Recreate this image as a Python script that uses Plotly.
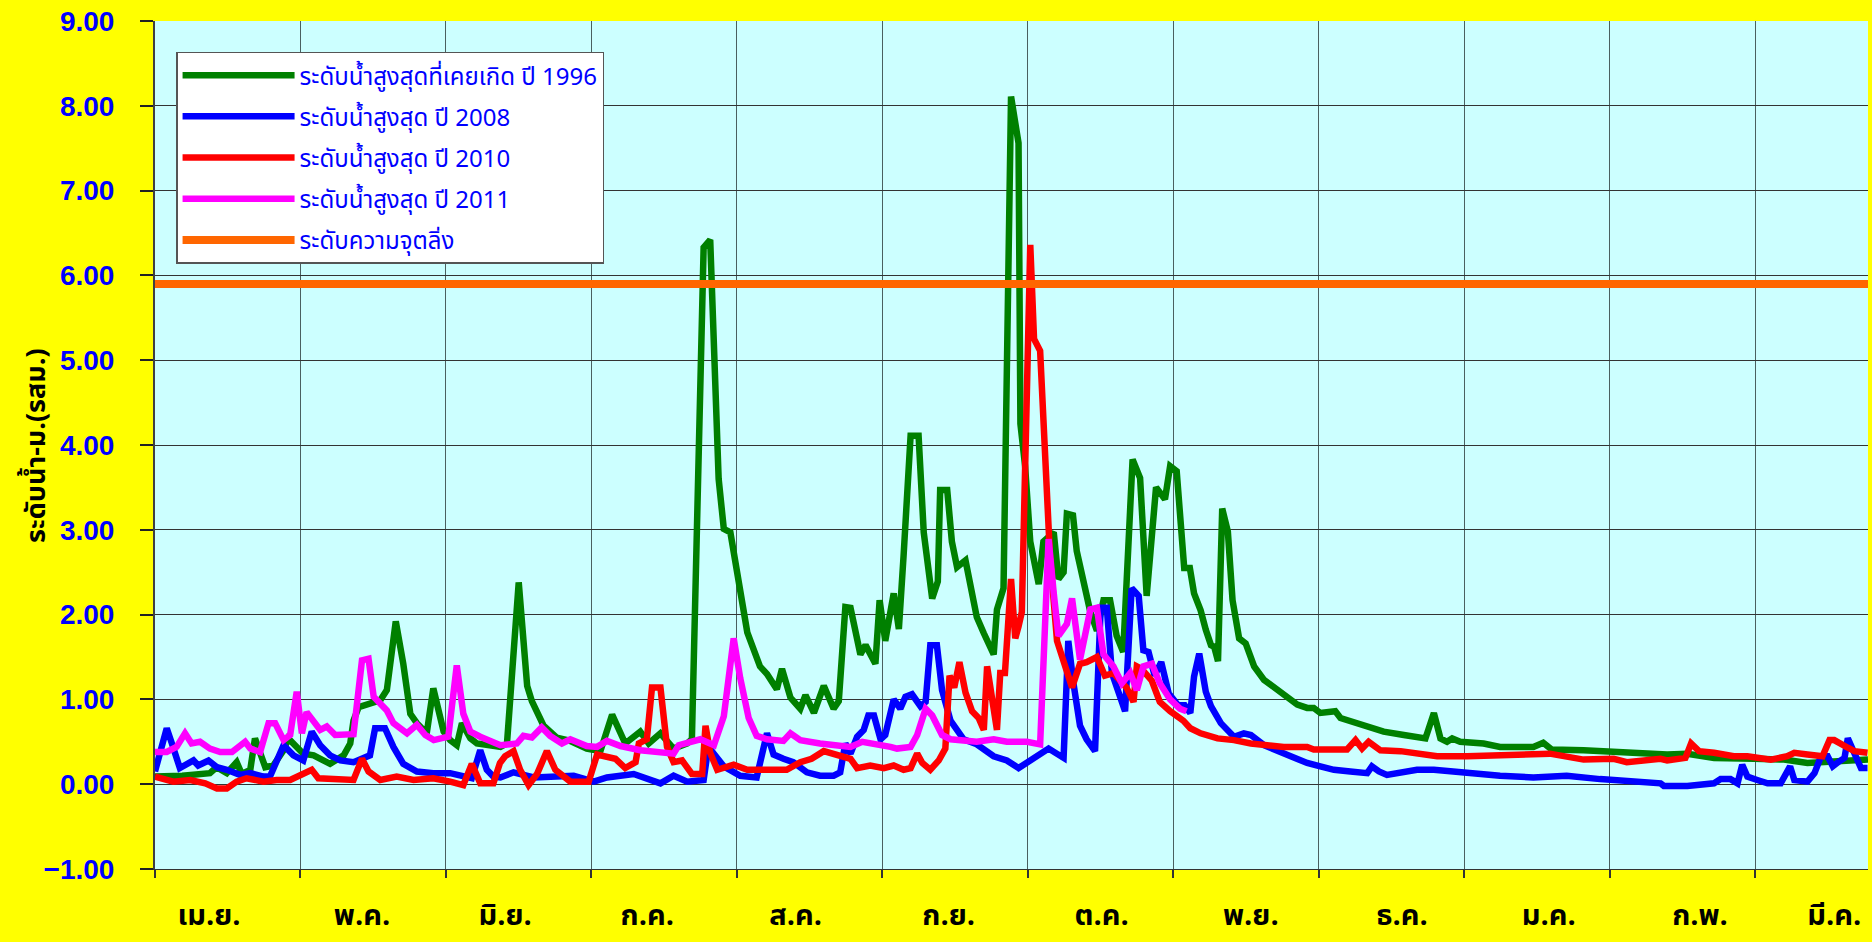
import plotly.graph_objects as go

# ---------------- data (day index from 1 April, value in m) ----------------
n_days = 366
threshold_level = 5.9

green_days = [0, 5.8, 11.7, 13.1, 15.3, 17.4, 18.5, 20.3, 21.3, 23.5, 25.2, 27.4, 28.4, 30.2, 31.6, 33.8, 36.0, 37.3,
              40.2, 41.6, 42.3, 43.4, 48.0, 49.4, 51.3, 52.9, 54.4, 55.8, 57.9, 59.3, 61.5, 62.9, 64.3, 65.4, 67.2,
              68.6, 73.6, 75.0, 77.5, 79.3, 80.3, 82.8, 85.6, 88.5, 92.0, 94.9, 97.4, 100.2, 103.4, 105.2, 107.7,
              110.5, 113.4, 114.4, 116.9, 118.3, 120.1, 121.2, 122.6, 124.0, 126.2, 128.9, 130.4, 132.5, 133.6,
              135.4, 137.5, 138.6, 140.4, 142.5, 144.6, 145.7, 147.1, 148.2, 150.3, 151.4, 153.5, 154.4, 155.6,
              157.4, 158.5, 159.5, 161.0, 162.7, 163.8, 165.6, 166.8, 167.3, 168.8, 169.8, 170.9, 172.7, 175.1,
              176.6, 178.7, 179.4, 180.8, 182.4, 184.0, 184.4, 185.4, 186.5, 188.3, 189.3, 191.5, 192.5, 193.6,
              194.3, 195.6, 196.4, 197.8, 199.3, 200.7, 202.1, 203.5, 204.9, 206.3, 208.3, 209.9, 211.3, 213.3,
              215.2, 216.3, 217.7, 219.3, 220.5, 221.4, 222.8, 223.9, 225.0, 225.7, 226.5, 227.4, 228.6, 229.6,
              231.0, 232.4, 234.2, 236.3, 239.1, 241.3, 243.4, 245.5, 246.9, 248.3, 251.5, 252.6, 257.6, 261.8,
              266.1, 270.7, 272.5, 273.9, 275.3, 276.4, 278.1, 283.1, 286.6, 293.7, 295.8, 297.6, 304.4, 315.1,
              322.2, 326.5, 332.2, 340.7, 347.1, 352.1, 357.8, 365.0]
green_vals = [0.09, 0.10, 0.13, 0.20, 0.13, 0.26, 0.12, 0.17, 0.54, 0.20, 0.22, 0.40, 0.54, 0.44, 0.36, 0.34, 0.28, 0.24,
              0.34, 0.48, 0.75, 0.91, 0.99, 1.11, 1.92, 1.42, 0.83, 0.72, 0.60, 1.13, 0.62, 0.52, 0.46, 0.72, 0.54,
              0.48, 0.44, 0.48, 2.38, 1.16, 0.98, 0.69, 0.55, 0.51, 0.42, 0.39, 0.82, 0.48, 0.62, 0.48, 0.60,
              0.42, 0.48, 0.53, 6.33, 6.42, 3.60, 3.01, 2.97, 2.47, 1.79, 1.39, 1.30, 1.12, 1.36,
              1.02, 0.89, 1.05, 0.84, 1.16, 0.89, 0.98, 2.09, 2.08, 1.53, 1.64, 1.42, 2.17, 1.69,
              2.25, 1.83, 2.69, 4.11, 4.11, 2.97, 2.19, 2.39, 3.47, 3.47, 2.86, 2.56, 2.64, 1.97,
              1.78, 1.53, 2.06, 2.31, 8.11, 7.56, 4.25, 3.75, 2.86, 2.36, 2.86, 2.97, 2.42, 2.50,
              3.19, 3.17, 2.75, 2.42, 2.03, 1.81, 2.17, 2.17, 1.75, 1.56, 3.83, 3.61, 2.22, 3.50,
              3.36, 3.75, 3.69, 2.55, 2.55, 2.25, 2.05, 1.82, 1.64, 1.62, 1.45, 3.25, 2.98, 2.17,
              1.72, 1.66, 1.39, 1.23, 1.11, 1.03, 0.94, 0.90, 0.90, 0.84, 0.86, 0.78, 0.70, 0.62,
              0.58, 0.54, 0.84, 0.54, 0.50, 0.54, 0.50, 0.48, 0.44, 0.44, 0.49, 0.41, 0.40, 0.37,
              0.35, 0.36, 0.31, 0.30, 0.29, 0.25, 0.27, 0.29]

blue_days = [0, 2.5, 3.6, 5.3, 8.2, 9.2, 11.4, 13.2, 15.3, 18.1, 20.3, 23.1, 24.5, 27.4, 29.5, 31.6, 33.4, 35.2, 37.3,
             39.5, 42.3, 45.8, 46.9, 49.0, 50.8, 52.9, 55.8, 59.3, 62.9, 66.1, 67.5, 69.3, 70.7, 72.1, 73.6, 76.4,
             80.7, 89.2, 93.5, 96.3, 102.0, 107.7, 110.5, 113.4, 116.9, 117.9, 121.2, 124.7, 128.2, 130.4, 131.8,
             133.9, 136.0, 138.9, 141.7, 144.6, 146.0, 147.1, 148.2, 149.6, 151.0, 152.0, 153.2, 154.6, 155.6,
             157.4, 158.8, 159.9, 161.3, 163.1, 164.2, 165.2, 166.6, 167.7, 169.5, 172.3, 175.1, 178.7, 181.5,
             184.0, 185.8, 187.2, 188.6, 190.4, 193.6, 194.6, 195.7, 197.1, 198.5, 200.3, 201.5, 202.8, 203.9,
             205.6, 206.7, 208.1, 209.6, 210.6, 211.7, 213.0, 214.4, 216.0, 218.0, 219.4, 220.6, 221.4, 222.5,
             223.9, 225.0, 227.1, 229.9, 232.0, 233.5, 236.3, 239.1, 242.0, 245.5, 248.3, 251.2, 254.7, 258.3,
             259.3, 260.8, 262.5, 266.1, 268.9, 272.5, 276.0, 279.6, 283.1, 286.6, 293.7, 300.8, 307.9, 315.1,
             320.8, 321.5, 326.5, 332.2, 333.6, 335.7, 337.2, 338.2, 339.3, 341.4, 343.6, 346.4, 348.4, 349.3,
             352.1, 353.6, 355.0, 356.4, 357.5, 358.9, 360.0, 360.7, 362.1, 363.5, 364.9]
blue_vals = [0.15, 0.66, 0.48, 0.19, 0.28, 0.22, 0.28, 0.20, 0.17, 0.11, 0.13, 0.09, 0.09, 0.46, 0.34, 0.28, 0.62, 0.46, 0.34,
             0.28, 0.26, 0.34, 0.66, 0.66, 0.44, 0.24, 0.15, 0.13, 0.13, 0.09, 0.07, 0.40, 0.17, 0.09, 0.08, 0.14,
             0.08, 0.10, 0.03, 0.08, 0.12, 0.01, 0.10, 0.03, 0.05, 0.44, 0.21, 0.10, 0.08, 0.60, 0.35,
             0.30, 0.26, 0.14, 0.10, 0.10, 0.14, 0.48, 0.36, 0.56, 0.64, 0.81, 0.81, 0.53, 0.58,
             1.00, 0.89, 1.03, 1.06, 0.92, 0.97, 1.64, 1.64, 1.11, 0.75, 0.53, 0.47, 0.33, 0.28,
             0.19, 0.25, 0.31, 0.36, 0.42, 0.31, 1.69, 1.19, 0.69, 0.53, 0.39, 2.08, 2.08, 1.31,
             1.03, 0.86, 2.31, 2.22, 1.58, 1.56, 1.28, 1.44, 1.07, 0.93, 0.93, 0.84, 1.27, 1.54,
             1.09, 0.92, 0.72, 0.56, 0.60, 0.58, 0.46, 0.39, 0.33, 0.25, 0.21, 0.17, 0.15, 0.13,
             0.21, 0.15, 0.11, 0.15, 0.17, 0.17, 0.15, 0.13, 0.11, 0.10, 0.08, 0.10, 0.06, 0.03,
             0.01, -0.02, -0.02, 0.01, 0.06, 0.06, 0.01, 0.23, 0.09, 0.05, 0.01, 0.01, 0.21, 0.05,
             0.03, 0.13, 0.33, 0.33, 0.21, 0.27, 0.31, 0.54, 0.37, 0.19, 0.19]

red_days = [0, 3.9, 7.5, 10.7, 13.2, 15.3, 17.4, 19.5, 23.1, 25.9, 28.8, 30.9, 33.4, 34.8, 38.7, 42.3, 44.1, 45.5, 48.0,
            51.5, 55.1, 59.3, 62.9, 65.7, 67.5, 69.3, 72.1, 73.5, 74.6, 76.4, 77.8, 79.6, 81.4, 83.5, 85.3, 88.5,
            92.4, 94.2, 98.1, 100.2, 102.4, 103.1, 104.8, 105.9, 107.7, 109.1, 110.5, 112.3, 114.4, 116.6, 117.3,
            118.3, 119.8, 123.3, 126.2, 130.4, 134.6, 137.5, 139.9, 142.5, 144.6, 148.2, 149.6, 152.4, 155.3,
            157.4, 159.5, 161.0, 162.4, 163.5, 165.2, 167.0, 168.4, 169.3, 170.3, 171.4, 172.7, 174.1, 175.5,
            176.6, 177.3, 178.0, 179.4, 180.1, 181.1, 182.4, 183.3, 184.0, 184.7, 186.5, 187.3, 188.6, 190.7,
            192.2, 193.6, 195.4, 197.1, 198.5, 200.7, 202.4, 204.2, 205.6, 207.0, 208.5, 209.2, 210.2, 212.4,
            214.1, 216.3, 219.1, 220.6, 222.8, 226.4, 229.9, 233.5, 240.5, 245.5, 246.9, 254.0, 255.8, 257.2,
            258.6, 261.1, 265.4, 268.9, 273.2, 279.6, 286.6, 297.2, 304.4, 310.8, 313.6, 320.8, 322.2, 326.1,
            327.3, 329.0, 332.2, 336.4, 339.3, 344.3, 347.8, 349.3, 352.1, 355.3, 356.8, 357.8, 360.7, 362.1,
            364.9]
red_vals = [0.09, 0.03, 0.05, 0.01, -0.05, -0.05, 0.03, 0.07, 0.03, 0.05, 0.05, 0.11, 0.17, 0.07, 0.05, 0.05, 0.30, 0.15, 0.05,
            0.09, 0.05, 0.07, 0.03, -0.01, 0.24, 0.01, 0.01, 0.25, 0.33, 0.39, 0.17, -0.01, 0.12, 0.39, 0.17, 0.03,
            0.03, 0.35, 0.30, 0.19, 0.26, 0.48, 0.53, 1.14, 1.14, 0.44, 0.26, 0.28, 0.12, 0.12, 0.69,
            0.37, 0.17, 0.23, 0.17, 0.17, 0.17, 0.26, 0.30, 0.39, 0.35, 0.30, 0.19, 0.22, 0.19,
            0.22, 0.17, 0.19, 0.36, 0.25, 0.17, 0.28, 0.42, 1.28, 1.14, 1.44, 1.08, 0.86, 0.78,
            0.64, 1.39, 1.14, 0.64, 1.31, 1.31, 2.42, 1.72, 1.86, 2.03, 6.36, 5.25, 5.11, 2.69,
            1.69, 1.42, 1.14, 1.42, 1.44, 1.50, 1.28, 1.31, 1.22, 1.14, 0.97, 1.39, 1.36, 1.22,
            0.97, 0.86, 0.75, 0.66, 0.60, 0.54, 0.52, 0.48, 0.44, 0.44, 0.41, 0.41, 0.52, 0.42,
            0.50, 0.40, 0.39, 0.37, 0.33, 0.33, 0.34, 0.36, 0.29, 0.30, 0.26, 0.30, 0.28, 0.31,
            0.48, 0.39, 0.37, 0.33, 0.33, 0.29, 0.33, 0.37, 0.35, 0.33, 0.52, 0.52, 0.43, 0.39,
            0.37]

magenta_days = [0, 2.5, 4.6, 6.4, 7.8, 9.6, 11.7, 13.9, 16.4, 19.2, 20.3, 22.4, 24.2, 25.6, 27.4, 28.8, 30.2, 31.3,
                32.3, 33.8, 35.2, 36.6, 38.4, 42.3, 44.1, 45.5, 46.6, 49.4, 50.8, 53.7, 55.8, 57.6, 59.4, 62.5,
                64.3, 65.7, 67.2, 69.3, 73.6, 77.1, 78.5, 80.3, 82.4, 84.2, 86.7, 88.5, 92.0, 94.2, 96.3, 99.2,
                103.4, 110.5, 111.6, 116.2, 119.1, 121.2, 123.3, 124.7, 126.5, 128.2, 130.4, 133.9, 135.4, 137.5,
                141.7, 148.2, 150.7, 156.7, 158.1, 161.0, 162.4, 164.2, 165.6, 167.7, 169.5, 175.1, 178.7, 181.5,
                185.8, 188.6, 190.4, 191.5, 192.5, 194.3, 195.4, 197.1, 198.2, 199.3, 200.7, 202.1, 204.2, 206.0,
                207.8, 209.2, 210.6, 212.4, 214.1, 216.3, 218.4, 219.8]
magenta_vals = [0.38, 0.38, 0.44, 0.60, 0.48, 0.50, 0.42, 0.38, 0.38, 0.50, 0.42, 0.38, 0.72, 0.72, 0.52, 0.58, 1.09, 0.60,
                0.85, 0.75, 0.64, 0.68, 0.58, 0.59, 1.46, 1.48, 1.03, 0.87, 0.72, 0.60, 0.70, 0.58, 0.52, 0.56,
                1.40, 0.83, 0.62, 0.56, 0.46, 0.48, 0.57, 0.55, 0.67, 0.57, 0.48, 0.53, 0.45, 0.44, 0.51, 0.45,
                0.40, 0.36, 0.46, 0.53, 0.46, 0.80, 1.72, 1.25, 0.78, 0.57, 0.53, 0.51, 0.60, 0.52,
                0.48, 0.44, 0.50, 0.44, 0.42, 0.44, 0.58, 0.89, 0.81, 0.58, 0.53, 0.50, 0.53, 0.50,
                0.50, 0.47, 2.89, 2.25, 1.75, 1.89, 2.19, 1.47, 1.81, 2.06, 2.08, 1.53, 1.39, 1.19,
                1.31, 1.11, 1.39, 1.42, 1.19, 1.00, 0.89, 0.86]

series_names = ["ระดับน้ำสูงสุดที่เคยเกิด ปี 1996", "ระดับน้ำสูงสุด ปี 2008", "ระดับน้ำสูงสุด ปี 2010",
                "ระดับน้ำสูงสุด ปี 2011", "ระดับความจุตลิ่ง"]
series_colors = ["#008000", "#0000FF", "#FF0000", "#FF00FF", "#FF6600"]

month_labels = ["เม.ย.", "พ.ค.", "มิ.ย.", "ก.ค.", "ส.ค.", "ก.ย.", "ต.ค.", "พ.ย.", "ธ.ค.", "ม.ค.", "ก.พ.", "มี.ค."]
month_label_pos = [11.5, 44.1, 74.6, 104.9, 136.5, 169.1, 201.7, 233.5, 265.7, 297.0, 329.2, 357.8]
grid_every = 31
y_title = "ระดับน้ำ-ม.(รสม.)"

THAI = "Tahoma, 'Noto Sans Thai', Loma, 'Liberation Sans', sans-serif"

fig = go.Figure()
data_sets = [(green_days, green_vals), (blue_days, blue_vals), (red_days, red_vals), (magenta_days, magenta_vals)]
for i, (dx, dy) in enumerate(data_sets):
    fig.add_trace(go.Scatter(x=dx, y=dy, mode="lines", name=series_names[i],
                             line=dict(color=series_colors[i], width=6.5), legendgroup=str(i)))
fig.add_trace(go.Scatter(x=[0, n_days - 1], y=[threshold_level, threshold_level], mode="lines",
                         name=series_names[4], line=dict(color=series_colors[4], width=8), legendgroup="4"))

grid_vals = list(range(0, n_days, grid_every))

fig.update_layout(
    width=1872, height=942,
    margin=dict(l=155, r=4, t=21, b=73, autoexpand=False),
    paper_bgcolor="#FFFF00", plot_bgcolor="#CCFFFF",
    showlegend=True,
    legend=dict(x=0.0123, y=0.964, xanchor="left", yanchor="top", bgcolor="white",
                bordercolor="#555555", borderwidth=1.5,
                font=dict(size=24, color="#0000FF", family=THAI),
                tracegroupgap=7, itemwidth=112),
    xaxis=dict(range=[0, n_days - 1], tickmode="array", tickvals=month_label_pos, ticktext=month_labels,
               ticks="", showgrid=False, zeroline=False, automargin=False,
               tickfont=dict(size=29, color="black", family=THAI, weight="bold"),
               ticklabelstandoff=20,
               minor=dict(tickmode="array", tickvals=grid_vals, showgrid=True, gridcolor="#4a6060",
                          gridwidth=1.3, ticks="outside", ticklen=8, tickcolor="#333333", tickwidth=1.5),
               showline=True, linecolor="#333333", linewidth=1),
    yaxis=dict(range=[-1, 9], dtick=1, tickformat=".2f", showgrid=True, gridcolor="#333333", gridwidth=1,
               zeroline=False, ticks="outside", ticklen=13, tickcolor="#222222", tickwidth=1.5,
               automargin=False,
               tickfont=dict(size=28, color="#0000FF", family="Liberation Sans, Arial", weight="bold"),
               ticklabelstandoff=20,
               showline=True, linecolor="#404040", linewidth=2),
    annotations=[dict(text=y_title, textangle=-90, xref="paper", yref="paper", x=-0.0695, y=0.5,
                      xanchor="center", yanchor="middle", showarrow=False,
                      font=dict(size=27, color="black", family=THAI, weight="bold"))],
)

fig.write_html("out.html", config={"displayModeBar": False},
               post_script="document.body.style.margin='0';document.body.style.overflow='hidden';")
